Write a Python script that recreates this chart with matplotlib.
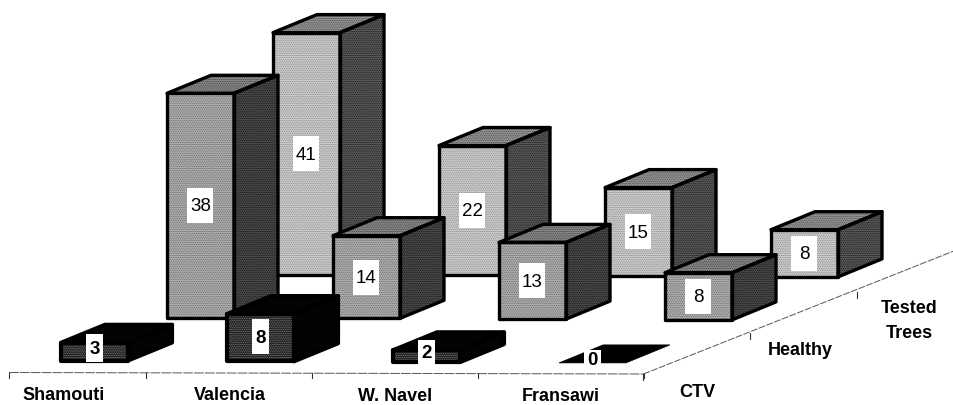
import matplotlib
matplotlib.use("Agg")
import matplotlib.pyplot as plt
from matplotlib.patches import Polygon, Rectangle

plt.rcParams['font.family'] = ['Liberation Sans', 'DejaVu Sans']
plt.rcParams['hatch.linewidth'] = 0.55

categories = ['Shamouti', 'Valencia', 'W. Navel', 'Fransawi']
rows = ['CTV', 'Healthy', 'Tested\nTrees']
ctv = [3, 8, 2, 0]
healthy = [38, 14, 13, 8]
tested = [41, 22, 15, 8]
series = [ctv, healthy, tested]

# oblique projection of (category, row, height) on to the page
X0, Y0 = 61, 361.5
CAT_DX, CAT_DY = 166, 0.8
ROW_DX, ROW_DY = 106, -43
H_PX = 5.9
BAR_W = 67
DEPTH_DX, DEPTH_DY = 44, -18


def proj(i, j, h=0.0):
    return (X0 + CAT_DX * i + ROW_DX * j, Y0 + CAT_DY * i + ROW_DY * j - H_PX * h)


STYLES = {
    2: dict(front='#d2d2d2', side='#5c5c5c', top='#999999', fh='#808080', sh='#161616', th='#444444', lw=2.4),
    1: dict(front='#b4b4b4', side='#4c4c4c', top='#8c8c8c', fh='#5e5e5e', sh='#111111', th='#3e3e3e', lw=2.4),
    0: dict(front='#1c1c1c', side='#030303', top='#030303', fh='#808080', sh='#030303', th='#030303', lw=3.0),
}

fig = plt.figure(figsize=(9.54, 4.06), dpi=100)
ax = fig.add_axes([0, 0, 1, 1])
ax.set_xlim(0, 954)
ax.set_ylim(406, 0)
ax.axis('off')


def face(pts, fc, hc, hatch, z, lw):
    ax.add_patch(Polygon(pts, closed=True, facecolor=fc, edgecolor=hc, hatch=hatch, lw=0, zorder=z))
    ax.add_patch(Polygon(pts, closed=True, fill=False, edgecolor='black', lw=lw, joinstyle='round', zorder=z + 0.1))


z = 2
for j in (2, 1, 0):
    st = STYLES[j]
    for i, h in enumerate(series[j]):
        xb, yb = proj(i, j)
        xt, yt = proj(i, j, h)
        dx, dy = DEPTH_DX, DEPTH_DY
        side = [(xb + BAR_W, yb), (xb + BAR_W + dx, yb + dy), (xt + BAR_W + dx, yt + dy), (xt + BAR_W, yt)]
        top = [(xt, yt), (xt + dx, yt + dy), (xt + BAR_W + dx, yt + dy), (xt + BAR_W, yt)]
        front = [(xb, yb), (xb + BAR_W, yb), (xt + BAR_W, yt), (xt, yt)]
        if h > 0:
            face(side, st['side'], st['sh'], '.........', z, st['lw'])
            face(top, st['top'], st['th'], '.........', z, st['lw'])
            face(front, st['front'], st['fh'], '.........', z, st['lw'])
        else:
            ax.add_patch(Polygon(top, closed=True, facecolor='black', edgecolor='black', lw=0.5, zorder=z))
        # value label on its white plate
        cx = xb + BAR_W / 2
        cy = (yb + yt) / 2
        if j == 0:
            bh = min(35, 18 + 3.3 * h)
            bw = 17
            cy -= 4 if h < 8 else 1
        else:
            bh, bw = 35, 26
        ax.add_patch(Rectangle((cx - bw / 2, cy - bh / 2), bw, bh, facecolor='white', edgecolor='none', zorder=z + 0.2))
        ax.text(cx, cy + 0.5, str(h), ha='center', va='center', fontsize=13.5,
                fontweight='bold' if j == 0 else 'normal', color='black', zorder=z + 0.3)
        z += 1

# floor axes
AX_Y = 373.5
edges_x = [146 + 166 * k for k in range(4)]
ax.plot([9, edges_x[-1] - 1], [AX_Y, AX_Y + 1.5], color='#555555', lw=0.7, ls=(0, (10, 1.2)))
for ex in [9] + edges_x:
    ax.plot([ex, ex], [AX_Y, AX_Y + 5.5], color='#333333', lw=0.8)

ox, oy = edges_x[-1] - 0.5, 375
row_step_x, row_step_y = 107, -41
ax.plot([ox, ox + 2.9 * row_step_x], [oy, oy + 3.0 * row_step_y], color='#555555', lw=0.7, ls=(0, (7, 1.5)))
for k in range(3):
    tx, ty = ox + k * row_step_x, oy + k * row_step_y
    ax.plot([tx, tx], [ty, ty + 6], color='#333333', lw=0.8)

# axis labels
for i, name in enumerate(categories):
    ax.text(64 + 165.7 * i, 395.5 + 0.5 * i, name, ha='center', va='center', fontsize=13, fontweight='bold')

ax.text(697, 393, rows[0], ha='center', va='center', fontsize=13, fontweight='bold')
ax.text(800, 351, rows[1], ha='center', va='center', fontsize=13, fontweight='bold')
line1, line2 = rows[2].split('\n')
ax.text(909, 309, line1, ha='center', va='center', fontsize=13, fontweight='bold')
ax.text(909, 334, line2, ha='center', va='center', fontsize=13, fontweight='bold')

fig.savefig('out.png', dpi=100)
